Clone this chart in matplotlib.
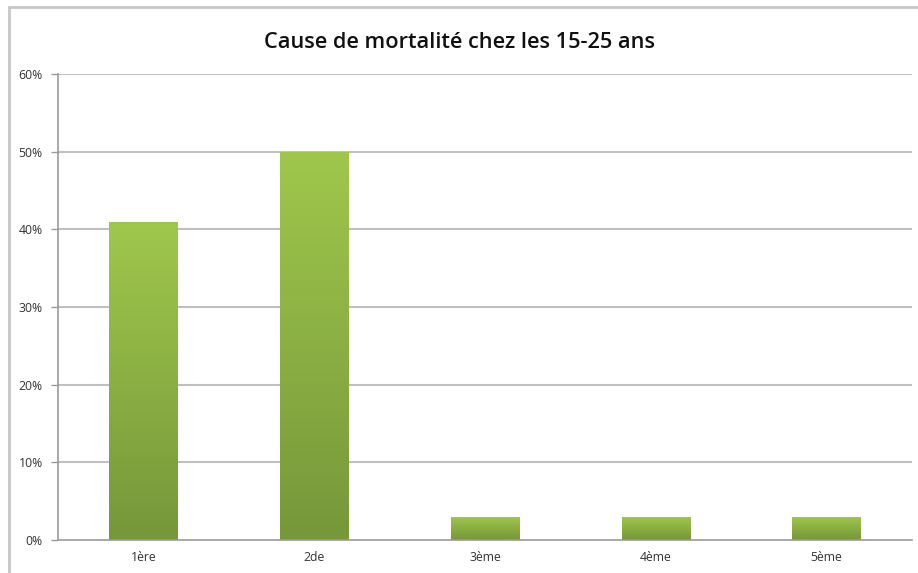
import numpy as np
import matplotlib.pyplot as plt
from matplotlib.colors import LinearSegmentedColormap
from matplotlib.patches import Rectangle

categories = ["1ère", "2de", "3ème", "4ème", "5ème"]
values = [41, 50, 3, 3, 3]
yticks = [0, 10, 20, 30, 40, 50, 60]

plt.rcParams['font.family'] = ['Open Sans', 'DejaVu Sans']

fig = plt.figure(figsize=(9.18, 5.73), dpi=100)
fig.patch.set_facecolor("white")

# outer chart frame
fig.add_artist(Rectangle((9 / 918, -0.1), 1.2, 1.1 - 7 / 573, transform=fig.transFigure,
                         fill=False, edgecolor="#c6c6c6", linewidth=2))

ax = fig.add_axes([58 / 918, 1 - 540 / 573, 854 / 918, 466 / 573])
ax.set_xlim(-0.5, len(categories) - 0.5)
ax.set_ylim(0, 60)

for y in yticks[1:]:
    ax.axhline(y, color="#c0c0c0", linewidth=1.5, zorder=1)

greens = LinearSegmentedColormap.from_list("greens", ["#76973a", "#a0c74c"])
grad = np.linspace(0, 1, 256).reshape(-1, 1)

bars = ax.bar(range(len(categories)), values, width=0.4, color="none", zorder=2)
for bar in bars:
    x0, h, w = bar.get_x(), bar.get_height(), bar.get_width()
    im = ax.imshow(grad, cmap=greens, origin="lower", aspect="auto",
                   extent=(x0, x0 + w, 0, h), zorder=2)
    im.set_clip_path(bar)

ax.set_xticks(range(len(categories)))
ax.set_xticklabels(categories, fontsize=8.8, color="#333333")
ax.set_yticks(yticks)
ax.set_yticklabels([f"{v}%" for v in yticks], fontsize=8.8, color="#333333")
ax.tick_params(axis="x", length=0, pad=8)
ax.tick_params(axis="y", length=5, width=1, color="#9a9a9a", pad=6)

for side in ["top", "right"]:
    ax.spines[side].set_visible(False)
for side in ["left", "bottom"]:
    ax.spines[side].set_color("#9a9a9a")
    ax.spines[side].set_linewidth(1.2)

fig.text(0.5, 1 - 43 / 573, "Cause de mortalité chez les 15-25 ans", ha="center", va="center",
         fontsize=15.7, fontweight="semibold", color="#111111")

fig.savefig("out.png", dpi=100)
